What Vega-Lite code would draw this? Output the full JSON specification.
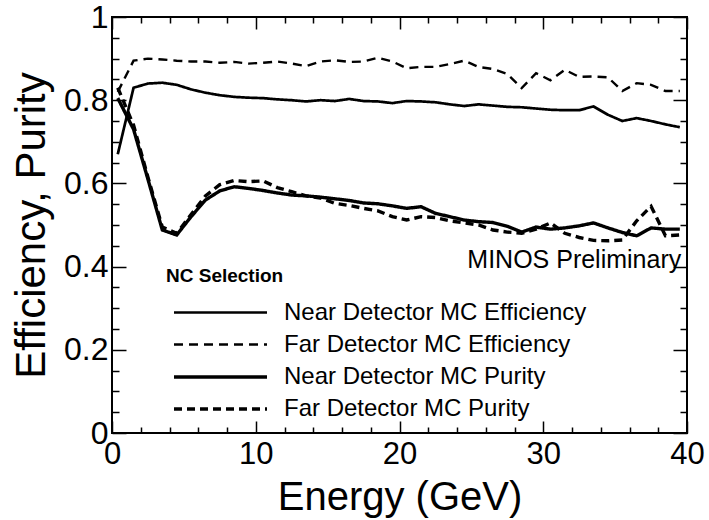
{
  "$schema": "https://vega.github.io/schema/vega-lite/v6.json",
  "autosize": {"type": "none"},
  "padding": {"left": 112, "top": 17, "right": 22, "bottom": 87},
  "width": 575,
  "height": 416,
  "background": "white",
  "config": {
    "view": {"stroke": "black", "strokeWidth": 2},
    "font": "Liberation Sans",
    "axis": {
      "domain": false,
      "grid": false,
      "tickColor": "black",
      "tickWidth": 1.5,
      "labelColor": "black",
      "titleColor": "black",
      "labelFont": "Liberation Sans",
      "titleFont": "Liberation Sans",
      "titleFontWeight": "normal",
      "labelOverlap": false,
      "labelFlush": false,
      "labelBound": false
    }
  },
  "data": {
    "values": [
      {"E": 0.4, "v": 0.67, "s": "Near Detector MC Efficiency"},
      {"E": 1.5, "v": 0.83, "s": "Near Detector MC Efficiency"},
      {"E": 2.5, "v": 0.84, "s": "Near Detector MC Efficiency"},
      {"E": 3.5, "v": 0.842, "s": "Near Detector MC Efficiency"},
      {"E": 4.5, "v": 0.837, "s": "Near Detector MC Efficiency"},
      {"E": 5.5, "v": 0.826, "s": "Near Detector MC Efficiency"},
      {"E": 6.5, "v": 0.818, "s": "Near Detector MC Efficiency"},
      {"E": 7.5, "v": 0.812, "s": "Near Detector MC Efficiency"},
      {"E": 8.5, "v": 0.808, "s": "Near Detector MC Efficiency"},
      {"E": 9.5, "v": 0.806, "s": "Near Detector MC Efficiency"},
      {"E": 10.5, "v": 0.805, "s": "Near Detector MC Efficiency"},
      {"E": 11.5, "v": 0.802, "s": "Near Detector MC Efficiency"},
      {"E": 12.5, "v": 0.8, "s": "Near Detector MC Efficiency"},
      {"E": 13.5, "v": 0.797, "s": "Near Detector MC Efficiency"},
      {"E": 14.5, "v": 0.8, "s": "Near Detector MC Efficiency"},
      {"E": 15.5, "v": 0.798, "s": "Near Detector MC Efficiency"},
      {"E": 16.5, "v": 0.803, "s": "Near Detector MC Efficiency"},
      {"E": 17.5, "v": 0.798, "s": "Near Detector MC Efficiency"},
      {"E": 18.5, "v": 0.797, "s": "Near Detector MC Efficiency"},
      {"E": 19.5, "v": 0.793, "s": "Near Detector MC Efficiency"},
      {"E": 20.5, "v": 0.798, "s": "Near Detector MC Efficiency"},
      {"E": 21.5, "v": 0.797, "s": "Near Detector MC Efficiency"},
      {"E": 22.5, "v": 0.795, "s": "Near Detector MC Efficiency"},
      {"E": 23.5, "v": 0.79, "s": "Near Detector MC Efficiency"},
      {"E": 24.5, "v": 0.786, "s": "Near Detector MC Efficiency"},
      {"E": 25.5, "v": 0.79, "s": "Near Detector MC Efficiency"},
      {"E": 26.5, "v": 0.787, "s": "Near Detector MC Efficiency"},
      {"E": 27.5, "v": 0.784, "s": "Near Detector MC Efficiency"},
      {"E": 28.5, "v": 0.783, "s": "Near Detector MC Efficiency"},
      {"E": 29.5, "v": 0.78, "s": "Near Detector MC Efficiency"},
      {"E": 30.5, "v": 0.777, "s": "Near Detector MC Efficiency"},
      {"E": 31.5, "v": 0.776, "s": "Near Detector MC Efficiency"},
      {"E": 32.5, "v": 0.776, "s": "Near Detector MC Efficiency"},
      {"E": 33.5, "v": 0.785, "s": "Near Detector MC Efficiency"},
      {"E": 34.5, "v": 0.765, "s": "Near Detector MC Efficiency"},
      {"E": 35.5, "v": 0.75, "s": "Near Detector MC Efficiency"},
      {"E": 36.5, "v": 0.757, "s": "Near Detector MC Efficiency"},
      {"E": 37.5, "v": 0.75, "s": "Near Detector MC Efficiency"},
      {"E": 38.5, "v": 0.742, "s": "Near Detector MC Efficiency"},
      {"E": 39.5, "v": 0.735, "s": "Near Detector MC Efficiency"},

      {"E": 0.4, "v": 0.82, "s": "Far Detector MC Efficiency"},
      {"E": 1.5, "v": 0.895, "s": "Far Detector MC Efficiency"},
      {"E": 2.5, "v": 0.9, "s": "Far Detector MC Efficiency"},
      {"E": 3.5, "v": 0.898, "s": "Far Detector MC Efficiency"},
      {"E": 4.5, "v": 0.895, "s": "Far Detector MC Efficiency"},
      {"E": 5.5, "v": 0.893, "s": "Far Detector MC Efficiency"},
      {"E": 6.5, "v": 0.893, "s": "Far Detector MC Efficiency"},
      {"E": 7.5, "v": 0.89, "s": "Far Detector MC Efficiency"},
      {"E": 8.5, "v": 0.892, "s": "Far Detector MC Efficiency"},
      {"E": 9.5, "v": 0.888, "s": "Far Detector MC Efficiency"},
      {"E": 10.5, "v": 0.89, "s": "Far Detector MC Efficiency"},
      {"E": 11.5, "v": 0.893, "s": "Far Detector MC Efficiency"},
      {"E": 12.5, "v": 0.888, "s": "Far Detector MC Efficiency"},
      {"E": 13.5, "v": 0.882, "s": "Far Detector MC Efficiency"},
      {"E": 14.5, "v": 0.893, "s": "Far Detector MC Efficiency"},
      {"E": 15.5, "v": 0.896, "s": "Far Detector MC Efficiency"},
      {"E": 16.5, "v": 0.892, "s": "Far Detector MC Efficiency"},
      {"E": 17.5, "v": 0.893, "s": "Far Detector MC Efficiency"},
      {"E": 18.5, "v": 0.902, "s": "Far Detector MC Efficiency"},
      {"E": 19.5, "v": 0.893, "s": "Far Detector MC Efficiency"},
      {"E": 20.5, "v": 0.877, "s": "Far Detector MC Efficiency"},
      {"E": 21.5, "v": 0.88, "s": "Far Detector MC Efficiency"},
      {"E": 22.5, "v": 0.88, "s": "Far Detector MC Efficiency"},
      {"E": 23.5, "v": 0.887, "s": "Far Detector MC Efficiency"},
      {"E": 24.5, "v": 0.895, "s": "Far Detector MC Efficiency"},
      {"E": 25.5, "v": 0.88, "s": "Far Detector MC Efficiency"},
      {"E": 26.5, "v": 0.875, "s": "Far Detector MC Efficiency"},
      {"E": 27.5, "v": 0.863, "s": "Far Detector MC Efficiency"},
      {"E": 28.5, "v": 0.829, "s": "Far Detector MC Efficiency"},
      {"E": 29.5, "v": 0.865, "s": "Far Detector MC Efficiency"},
      {"E": 30.5, "v": 0.848, "s": "Far Detector MC Efficiency"},
      {"E": 31.5, "v": 0.873, "s": "Far Detector MC Efficiency"},
      {"E": 32.5, "v": 0.856, "s": "Far Detector MC Efficiency"},
      {"E": 33.5, "v": 0.857, "s": "Far Detector MC Efficiency"},
      {"E": 34.5, "v": 0.855, "s": "Far Detector MC Efficiency"},
      {"E": 35.5, "v": 0.822, "s": "Far Detector MC Efficiency"},
      {"E": 36.5, "v": 0.841, "s": "Far Detector MC Efficiency"},
      {"E": 37.5, "v": 0.837, "s": "Far Detector MC Efficiency"},
      {"E": 38.5, "v": 0.822, "s": "Far Detector MC Efficiency"},
      {"E": 39.5, "v": 0.822, "s": "Far Detector MC Efficiency"},

      {"E": 0.4, "v": 0.805, "s": "Near Detector MC Purity"},
      {"E": 1.5, "v": 0.73, "s": "Near Detector MC Purity"},
      {"E": 2.5, "v": 0.61, "s": "Near Detector MC Purity"},
      {"E": 3.5, "v": 0.488, "s": "Near Detector MC Purity"},
      {"E": 4.5, "v": 0.476, "s": "Near Detector MC Purity"},
      {"E": 5.5, "v": 0.52, "s": "Near Detector MC Purity"},
      {"E": 6.5, "v": 0.56, "s": "Near Detector MC Purity"},
      {"E": 7.5, "v": 0.582, "s": "Near Detector MC Purity"},
      {"E": 8.5, "v": 0.592, "s": "Near Detector MC Purity"},
      {"E": 9.5, "v": 0.588, "s": "Near Detector MC Purity"},
      {"E": 10.5, "v": 0.583, "s": "Near Detector MC Purity"},
      {"E": 11.5, "v": 0.577, "s": "Near Detector MC Purity"},
      {"E": 12.5, "v": 0.572, "s": "Near Detector MC Purity"},
      {"E": 13.5, "v": 0.57, "s": "Near Detector MC Purity"},
      {"E": 14.5, "v": 0.567, "s": "Near Detector MC Purity"},
      {"E": 15.5, "v": 0.563, "s": "Near Detector MC Purity"},
      {"E": 16.5, "v": 0.559, "s": "Near Detector MC Purity"},
      {"E": 17.5, "v": 0.553, "s": "Near Detector MC Purity"},
      {"E": 18.5, "v": 0.551, "s": "Near Detector MC Purity"},
      {"E": 19.5, "v": 0.546, "s": "Near Detector MC Purity"},
      {"E": 20.5, "v": 0.54, "s": "Near Detector MC Purity"},
      {"E": 21.5, "v": 0.544, "s": "Near Detector MC Purity"},
      {"E": 22.5, "v": 0.528, "s": "Near Detector MC Purity"},
      {"E": 23.5, "v": 0.52, "s": "Near Detector MC Purity"},
      {"E": 24.5, "v": 0.512, "s": "Near Detector MC Purity"},
      {"E": 25.5, "v": 0.508, "s": "Near Detector MC Purity"},
      {"E": 26.5, "v": 0.506, "s": "Near Detector MC Purity"},
      {"E": 27.5, "v": 0.497, "s": "Near Detector MC Purity"},
      {"E": 28.5, "v": 0.483, "s": "Near Detector MC Purity"},
      {"E": 29.5, "v": 0.495, "s": "Near Detector MC Purity"},
      {"E": 30.5, "v": 0.49, "s": "Near Detector MC Purity"},
      {"E": 31.5, "v": 0.493, "s": "Near Detector MC Purity"},
      {"E": 32.5, "v": 0.498, "s": "Near Detector MC Purity"},
      {"E": 33.5, "v": 0.505, "s": "Near Detector MC Purity"},
      {"E": 34.5, "v": 0.493, "s": "Near Detector MC Purity"},
      {"E": 35.5, "v": 0.482, "s": "Near Detector MC Purity"},
      {"E": 36.5, "v": 0.474, "s": "Near Detector MC Purity"},
      {"E": 37.5, "v": 0.493, "s": "Near Detector MC Purity"},
      {"E": 38.5, "v": 0.49, "s": "Near Detector MC Purity"},
      {"E": 39.5, "v": 0.49, "s": "Near Detector MC Purity"},

      {"E": 0.4, "v": 0.83, "s": "Far Detector MC Purity"},
      {"E": 1.5, "v": 0.74, "s": "Far Detector MC Purity"},
      {"E": 2.5, "v": 0.615, "s": "Far Detector MC Purity"},
      {"E": 3.5, "v": 0.495, "s": "Far Detector MC Purity"},
      {"E": 4.5, "v": 0.48, "s": "Far Detector MC Purity"},
      {"E": 5.5, "v": 0.525, "s": "Far Detector MC Purity"},
      {"E": 6.5, "v": 0.57, "s": "Far Detector MC Purity"},
      {"E": 7.5, "v": 0.597, "s": "Far Detector MC Purity"},
      {"E": 8.5, "v": 0.607, "s": "Far Detector MC Purity"},
      {"E": 9.5, "v": 0.604, "s": "Far Detector MC Purity"},
      {"E": 10.5, "v": 0.606, "s": "Far Detector MC Purity"},
      {"E": 11.5, "v": 0.59, "s": "Far Detector MC Purity"},
      {"E": 12.5, "v": 0.58, "s": "Far Detector MC Purity"},
      {"E": 13.5, "v": 0.57, "s": "Far Detector MC Purity"},
      {"E": 14.5, "v": 0.565, "s": "Far Detector MC Purity"},
      {"E": 15.5, "v": 0.552, "s": "Far Detector MC Purity"},
      {"E": 16.5, "v": 0.547, "s": "Far Detector MC Purity"},
      {"E": 17.5, "v": 0.54, "s": "Far Detector MC Purity"},
      {"E": 18.5, "v": 0.534, "s": "Far Detector MC Purity"},
      {"E": 19.5, "v": 0.52, "s": "Far Detector MC Purity"},
      {"E": 20.5, "v": 0.512, "s": "Far Detector MC Purity"},
      {"E": 21.5, "v": 0.52, "s": "Far Detector MC Purity"},
      {"E": 22.5, "v": 0.518, "s": "Far Detector MC Purity"},
      {"E": 23.5, "v": 0.51, "s": "Far Detector MC Purity"},
      {"E": 24.5, "v": 0.505, "s": "Far Detector MC Purity"},
      {"E": 25.5, "v": 0.5, "s": "Far Detector MC Purity"},
      {"E": 26.5, "v": 0.488, "s": "Far Detector MC Purity"},
      {"E": 27.5, "v": 0.483, "s": "Far Detector MC Purity"},
      {"E": 28.5, "v": 0.48, "s": "Far Detector MC Purity"},
      {"E": 29.5, "v": 0.49, "s": "Far Detector MC Purity"},
      {"E": 30.5, "v": 0.505, "s": "Far Detector MC Purity"},
      {"E": 31.5, "v": 0.48, "s": "Far Detector MC Purity"},
      {"E": 32.5, "v": 0.47, "s": "Far Detector MC Purity"},
      {"E": 33.5, "v": 0.463, "s": "Far Detector MC Purity"},
      {"E": 34.5, "v": 0.462, "s": "Far Detector MC Purity"},
      {"E": 35.5, "v": 0.464, "s": "Far Detector MC Purity"},
      {"E": 36.5, "v": 0.51, "s": "Far Detector MC Purity"},
      {"E": 37.5, "v": 0.545, "s": "Far Detector MC Purity"},
      {"E": 38.5, "v": 0.474, "s": "Far Detector MC Purity"},
      {"E": 39.5, "v": 0.476, "s": "Far Detector MC Purity"}
    ]
  },
  "resolve": {"axis": {"x": "independent", "y": "independent"}},
  "layer": [
    {
      "mark": {"type": "line", "color": "black", "strokeCap": "butt", "strokeJoin": "miter"},
      "encoding": {
        "x": {
          "field": "E", "type": "quantitative",
          "scale": {"domain": [0, 40], "nice": false},
          "axis": {
            "orient": "bottom",
            "title": "Energy (GeV)",
            "titleFontSize": 40,
            "titleBaseline": "alphabetic",
            "titleY": 76,
            "titleX": 287.5,
            "values": [0,2,4,6,8,10,12,14,16,18,20,22,24,26,28,30,32,34,36,38,40],
            "labelExpr": "datum.value % 10 === 0 ? datum.label : ''",
            "labelFontSize": 31,
            "labelPadding": 18,
            "tickSize": {"condition": {"test": "datum.value % 10 === 0", "value": -12}, "value": -6}
          }
        },
        "y": {
          "field": "v", "type": "quantitative",
          "scale": {"domain": [0, 1], "nice": false, "zero": false},
          "axis": {
            "orient": "left",
            "title": "Efficiency, Purity",
            "titleFontSize": 42,
            "titleX": -68,
            "titleY": 208,
            "titleBaseline": "alphabetic",
            "values": [0,0.05,0.1,0.15,0.2,0.25,0.3,0.35,0.4,0.45,0.5,0.55,0.6,0.65,0.7,0.75,0.8,0.85,0.9,0.95,1],
            "format": "~g",
            "labelExpr": "abs(datum.value * 5 - round(datum.value * 5)) < 0.001 ? datum.label : ''",
            "labelFontSize": 32,
            "labelPadding": 18,
            "tickSize": {"condition": {"test": "abs(datum.value * 5 - round(datum.value * 5)) < 0.001", "value": -14}, "value": -7}
          }
        },
        "detail": {"field": "s"},
        "strokeDash": {
          "field": "s", "type": "nominal",
          "scale": {
            "domain": ["Near Detector MC Efficiency", "Far Detector MC Efficiency", "Near Detector MC Purity", "Far Detector MC Purity"],
            "range": [[1, 0], [9, 6], [1, 0], [8, 5]]
          },
          "legend": {
            "title": "NC Selection",
            "orient": "none",
            "legendX": 54,
            "legendY": 250,
            "titleFont": "Liberation Sans",
            "titleFontSize": 19,
            "titleFontWeight": "bold",
            "titleColor": "black",
            "titlePadding": 10,
            "labelFont": "Liberation Sans",
            "labelFontSize": 24,
            "labelColor": "black",
            "labelLimit": 0,
            "labelOffset": 84,
            "rowPadding": 3,
            "symbolType": "M-0.6,0H5.6",
            "symbolSize": 900,
            "symbolStrokeColor": "black"
          }
        },
        "strokeWidth": {
          "field": "s", "type": "nominal",
          "scale": {
            "type": "ordinal",
            "domain": ["Near Detector MC Efficiency", "Far Detector MC Efficiency", "Near Detector MC Purity", "Far Detector MC Purity"],
            "range": [2.7, 2.4, 3.4, 3.4]
          }
        }
      }
    },
    {
      "data": {"values": [{"t": "MINOS Preliminary"}]},
      "mark": {"type": "text", "align": "right", "baseline": "alphabetic", "fontSize": 25, "font": "Liberation Sans", "color": "black"},
      "encoding": {
        "text": {"field": "t"},
        "x": {
          "datum": 39.6, "type": "quantitative",
          "axis": {
            "orient": "top", "title": null, "labels": false,
            "values": [0,2,4,6,8,10,12,14,16,18,20,22,24,26,28,30,32,34,36,38,40],
            "tickSize": {"condition": {"test": "datum.value % 10 === 0", "value": -12}, "value": -6}
          }
        },
        "y": {
          "datum": 0.397, "type": "quantitative",
          "axis": {
            "orient": "right", "title": null, "labels": false,
            "values": [0,0.05,0.1,0.15,0.2,0.25,0.3,0.35,0.4,0.45,0.5,0.55,0.6,0.65,0.7,0.75,0.8,0.85,0.9,0.95,1],
            "tickSize": {"condition": {"test": "abs(datum.value * 5 - round(datum.value * 5)) < 0.001", "value": -14}, "value": -7}
          }
        }
      }
    }
  ]
}
